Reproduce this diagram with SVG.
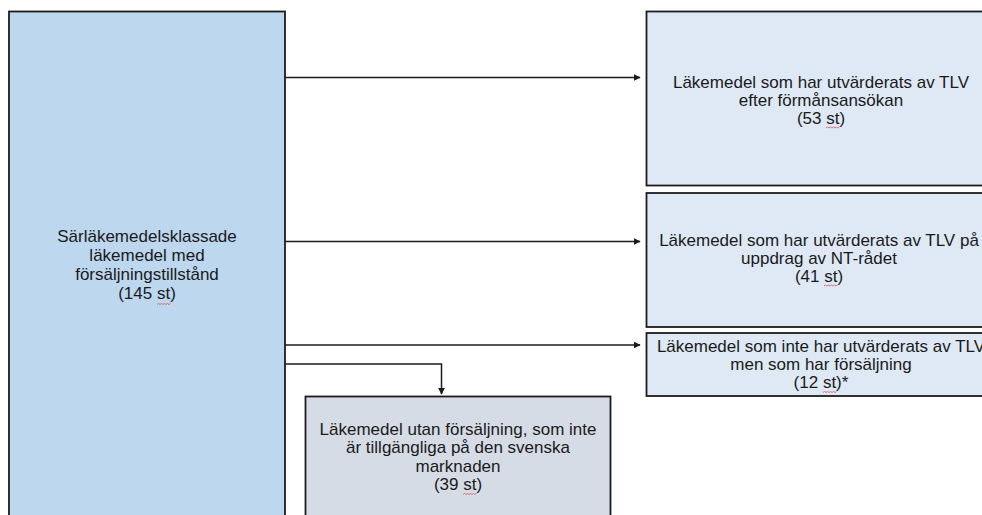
<svg xmlns="http://www.w3.org/2000/svg" width="982" height="515" viewBox="0 0 982 515">
<defs>
<style>
.box{stroke:#1c1c1c;stroke-width:1.8}
.main{fill:#bdd7ee}
.lite{fill:#dee9f5}
.gray{fill:#d6dce5}
text{font-family:"Liberation Sans",Arial,sans-serif;font-size:17px;fill:#1a1a1a;text-anchor:middle}
.conn{fill:none;stroke:#1c1c1c;stroke-width:1.5}
.sq{fill:none;stroke:#d9534f;stroke-width:0.8}
</style>
<marker id="arr" viewBox="0 0 10 10" refX="9" refY="5" markerWidth="7" markerHeight="7" markerUnits="userSpaceOnUse" orient="auto">
<path d="M0,0 L10,5 L0,10 z" fill="#1c1c1c"/>
</marker>
</defs>
<rect width="982" height="515" fill="#ffffff"/>
<g id="n-main">
<rect class="box main" x="9" y="11.5" width="276" height="520"/>
<text x="147" y="242">Särläkemedelsklassade</text>
<text x="147" y="261">läkemedel med</text>
<text x="147" y="280">försäljningstillstånd</text>
<text x="147" y="299">(145 st)</text>
<path class="sq" d="M157,304.5 l1.5,-1 l1.5,1 l1.5,-1 l1.5,1 l1.5,-1 l1.5,1 l1.5,-1 l1.5,1 l1.5,-1"/>
</g>
<g id="n-formans">
<rect class="box lite" x="646.5" y="11.5" width="350" height="174"/>
<text x="821" y="87.5">Läkemedel som har utvärderats av TLV</text>
<text x="821" y="105.5">efter förmånsansökan</text>
<text x="821" y="123.5">(53 st)</text>
<path class="sq" d="M826,128 l1.5,-1 l1.5,1 l1.5,-1 l1.5,1 l1.5,-1 l1.5,1 l1.5,-1 l1.5,1 l1.5,-1"/>
</g>
<g id="n-nt">
<rect class="box lite" x="646.5" y="193" width="350" height="134"/>
<text x="819" y="245.5">Läkemedel som har utvärderats av TLV på</text>
<text x="819" y="263.5">uppdrag av NT-rådet</text>
<text x="819" y="281.5">(41 st)</text>
<path class="sq" d="M824,286 l1.5,-1 l1.5,1 l1.5,-1 l1.5,1 l1.5,-1 l1.5,1 l1.5,-1 l1.5,1 l1.5,-1"/>
</g>
<g id="n-ej">
<rect class="box lite" x="646.5" y="333" width="350" height="63"/>
<text x="821" y="352">Läkemedel som inte har utvärderats av TLV</text>
<text x="821" y="370">men som har försäljning</text>
<text x="821" y="388">(12 st)*</text>
<path class="sq" d="M823,392.5 l1.5,-1 l1.5,1 l1.5,-1 l1.5,1 l1.5,-1 l1.5,1 l1.5,-1 l1.5,1 l1.5,-1"/>
</g>
<g id="n-utan">
<rect class="box gray" x="305.5" y="396.5" width="305" height="130"/>
<text x="458" y="435">Läkemedel utan försäljning, som inte</text>
<text x="458" y="453">är tillgängliga på den svenska</text>
<text x="458" y="471.5">marknaden</text>
<text x="458" y="490">(39 st)</text>
<path class="sq" d="M463,494.5 l1.5,-1 l1.5,1 l1.5,-1 l1.5,1 l1.5,-1 l1.5,1 l1.5,-1 l1.5,1 l1.5,-1"/>
</g>
<g id="connectors">
<path class="conn" d="M285,77.5 H640" marker-end="url(#arr)"/>
<path class="conn" d="M285,241.5 H640" marker-end="url(#arr)"/>
<path class="conn" d="M285,345 H640" marker-end="url(#arr)"/>
<path class="conn" d="M285,364 H441.5 V394" marker-end="url(#arr)"/>
</g>
</svg>
